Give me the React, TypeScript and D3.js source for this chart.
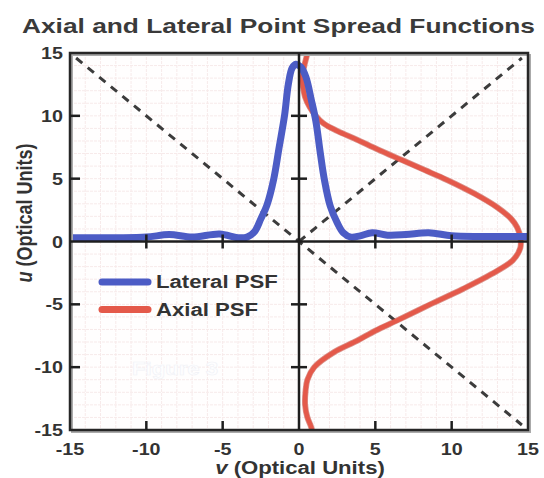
import React from 'react';
import * as d3 from 'd3';

// axis ticks (optical units)
const vTicks = [-15, -10, -5, 0, 5, 10, 15];
const uTicks = [-15, -10, -5, 0, 5, 10, 15];
const innerTicks = [-10, -5, 5, 10];

// Lateral PSF: [v, u]
const lateralPSF: [number, number][] = [
  [-15, 0.3], [-12, 0.3], [-10, 0.35], [-8.5, 0.55], [-7, 0.35], [-5.2, 0.6],
  [-4, 0.3], [-3.4, 0.35], [-2.9, 0.8], [-2.5, 1.8], [-2.1, 2.9], [-1.65, 5],
  [-1.3, 7.5], [-0.95, 10], [-0.7, 12.5], [-0.45, 13.8], [-0.2, 14.1], [0.1, 13.9],
  [0.45, 13.1], [0.8, 11.3], [1.1, 9.6], [1.4, 7], [1.65, 5], [2.05, 2.8],
  [2.5, 1.5], [2.9, 0.7], [3.4, 0.35], [4, 0.45], [4.8, 0.7], [5.8, 0.5],
  [7, 0.55], [8.5, 0.7], [10, 0.45], [12, 0.4], [15, 0.4],
];

// Axial PSF: [u, v]
const axialPSF: [number, number][] = [
  [15.6, 0.6], [15, 0.55], [14, 0.35], [13, 0.2], [12.4, 0.25], [11.5, 0.4],
  [10.7, 0.7], [10, 1.1], [9.4, 1.6], [8.8, 2.5], [8.1, 3.8], [7.3, 5.2],
  [6.5, 6.7], [5.7, 8.2], [4.9, 9.7], [3.8, 11.5], [2.7, 13], [1.8, 13.9],
  [1.1, 14.3], [0.3, 14.5], [-0.5, 14.5], [-1.5, 14], [-2.6, 12.6], [-3.8, 10.7],
  [-5, 8.6], [-6.3, 6.4], [-7.1, 5], [-7.9, 3.8], [-8.8, 2.3], [-10, 1],
  [-11, 0.55], [-11.9, 0.43], [-13, 0.4], [-14, 0.55], [-14.6, 0.75], [-15.2, 0.9],
];

// dashed guides [v, u]
const guides: [number, number][][] = [
  [[-14.6, 14.6], [14.6, -14.6]],
  [[0, 0], [14.6, 14.6]],
];

const legendItems = [
  { label: 'Lateral PSF', color: '#4c5cc5' },
  { label: 'Axial PSF', color: '#e4594a' },
];

const SX = 1.23; // the source image is stretched horizontally
const FONT = '"Liberation Sans", Arial, Helvetica, sans-serif';
const INK = '#333';

const T = ({ x, y, size, anchor = 'start', fill = INK, sx = SX, children, rotate = 0, ...rest }: any) => (
  <text
    transform={`translate(${x},${y}) scale(${sx},1)${rotate ? ` rotate(${rotate})` : ''}`}
    textAnchor={anchor}
    fontFamily={FONT}
    fontWeight="bold"
    fontSize={size}
    fill={fill}
    {...rest}
  >
    {children}
  </text>
);

export default function App() {
  const W = 544;
  const H = 478;
  const x = d3.scaleLinear().domain([-15, 15]).range([70, 528]);
  const y = d3.scaleLinear().domain([-15, 15]).range([430, 53]);

  const lateralLine = d3.line<[number, number]>()
    .x(d => x(d[0]))
    .y(d => y(d[1]))
    .curve(d3.curveCatmullRom);

  const axialLine = d3.line<[number, number]>()
    .x(d => x(d[1]))
    .y(d => y(d[0]))
    .curve(d3.curveCatmullRom);

  const gridVals = d3.range(-14, 15);

  return (
    <div style={{ position: 'absolute', left: 0, top: 0 }}>
      <svg width={W} height={H} style={{ display: 'block', background: '#fff' }}>
        <defs>
          <clipPath id="plot">
            <rect x={x(-15)} y={y(15)} width={x(15) - x(-15)} height={y(-15) - y(15)} />
          </clipPath>
        </defs>

        <text x={22} y={33} fontFamily={FONT} fontWeight="bold" fontSize={21} fill="#3a3a3a"
          textLength={513} lengthAdjust="spacingAndGlyphs">
          Axial and Lateral Point Spread Functions
        </text>

        {/* plot background + grid */}
        <rect x={x(-15)} y={y(15)} width={x(15) - x(-15)} height={y(-15) - y(15)} fill="#fffefe" />
        <g stroke="#f7eaea" strokeWidth={1} strokeDasharray="3,1">
          {gridVals.map(v => (
            <line key={'gv' + v} x1={x(v)} x2={x(v)} y1={y(15)} y2={y(-15)} />
          ))}
          {gridVals.map(u => (
            <line key={'gu' + u} x1={x(-15)} x2={x(15)} y1={y(u)} y2={y(u)} />
          ))}
        </g>

        {/* faint watermark */}
        <T x={132} y={375} size={18} fill="#fefeff" stroke="#f1f2f7" strokeWidth={0.6}>Figure 3</T>

        {/* dashed guides */}
        <g stroke="#3c3c3c" strokeWidth={3} strokeDasharray="8,7" fill="none">
          {guides.map((g, i) => (
            <line key={i} x1={x(g[0][0])} y1={y(g[0][1])} x2={x(g[1][0])} y2={y(g[1][1])} />
          ))}
        </g>

        {/* curves */}
        <g clipPath="url(#plot)" fill="none" strokeLinejoin="round" strokeLinecap="round">
          <path d={axialLine(axialPSF) || ''} stroke="#c24a3d" strokeWidth={6} opacity={0.6} />
          <path d={axialLine(axialPSF) || ''} stroke={legendItems[1].color} strokeWidth={4.5} />
          <path d={lateralLine(lateralPSF) || ''} stroke={legendItems[0].color} strokeWidth={7} />
        </g>

        {/* frame with soft shadow */}
        <rect x={x(-15) + 2} y={y(15) + 2} width={x(15) - x(-15)} height={y(-15) - y(15)}
          fill="none" stroke="#aaa" strokeWidth={2} />
        <rect x={x(-15)} y={y(15)} width={x(15) - x(-15)} height={y(-15) - y(15)}
          fill="none" stroke="#262626" strokeWidth={2.5} />

        {/* central axes */}
        <g stroke="#1e1e1e" strokeWidth={2.5}>
          <line x1={x(-15)} x2={x(15)} y1={y(0)} y2={y(0)} />
          <line x1={x(0)} x2={x(0)} y1={y(15)} y2={y(-15)} />
          {innerTicks.map(v => (
            <line key={'hx' + v} x1={x(v)} x2={x(v)} y1={y(0) - 7} y2={y(0) + 7} />
          ))}
          {innerTicks.map(u => (
            <line key={'vy' + u} x1={x(0) - 8} x2={x(0) + 8} y1={y(u)} y2={y(u)} />
          ))}
          {innerTicks.map(v => (
            <line key={'bx' + v} x1={x(v)} x2={x(v)} y1={y(-15)} y2={y(-15) - 9} />
          ))}
          {innerTicks.map(u => (
            <line key={'ly' + u} x1={x(-15)} x2={x(-15) + 10} y1={y(u)} y2={y(u)} />
          ))}
        </g>

        {/* tick labels */}
        {uTicks.map(u => (
          <T key={'ul' + u} x={63} y={y(u) + 6} size={16} anchor="end">{u}</T>
        ))}
        {vTicks.map(v => (
          <T key={'vl' + v} x={x(v)} y={455} size={16} anchor="middle">{v}</T>
        ))}

        {/* axis titles */}
        <T x={300} y={474} size={18} anchor="middle">
          <tspan fontStyle="italic">v</tspan> (Optical Units)
        </T>
        <T x={32} y={213} size={18} anchor="middle" sx={1.25} rotate={-90}>
          <tspan fontStyle="italic">u</tspan> (Optical Units)
        </T>

        {/* legend */}
        {legendItems.map((it, i) => (
          <g key={it.label}>
            <line x1={102} x2={148} y1={282 + i * 27.5} y2={282 + i * 27.5}
              stroke={it.color} strokeWidth={7} strokeLinecap="round" />
            <T x={156} y={288 + i * 27.5} size={18}>{it.label}</T>
          </g>
        ))}
      </svg>
    </div>
  );
}
